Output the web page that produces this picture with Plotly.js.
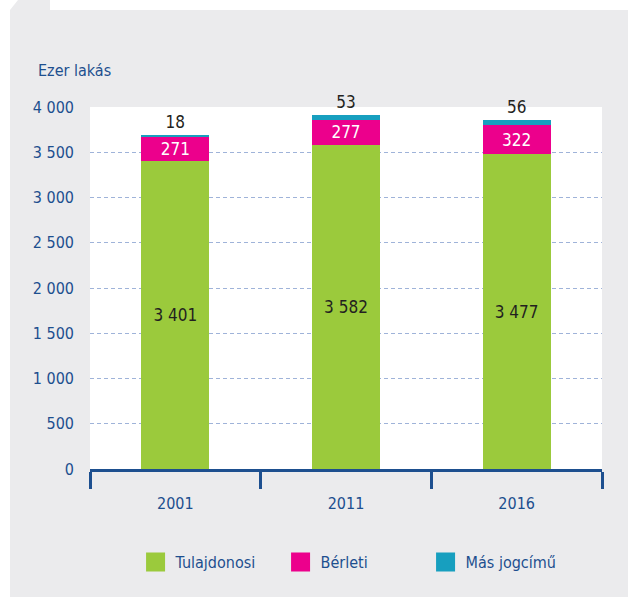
<!DOCTYPE html>
<html>
<head>
<meta charset="utf-8">
<script src="https://cdn.plot.ly/plotly-3.0.1.min.js"></script>
<style>
  html, body { margin: 0; padding: 0; background: #ffffff; }
  #bg { position: absolute; left: 0; top: 0; width: 628px; height: 599px; background: #ebebed;
        clip-path: polygon(18px 0px, 50px 0px, 50px 10px, 628px 10px, 628px 597px, 10px 597px, 10px 10px); }
  #chart { position: absolute; left: 0; top: 0; width: 628px; height: 599px; }
</style>
</head>
<body>
<div id="bg"></div>
<div id="chart"></div>
<script>
const years = ['2001', '2011', '2016'];
const tulajdonosi = [3401, 3582, 3477];
const berleti = [271, 277, 322];
const masJogcimu = [18, 53, 56];
const seriesNames = ['Tulajdonosi', 'Bérleti', 'Más jogcímű'];
const yTicks = [0, 500, 1000, 1500, 2000, 2500, 3000, 3500, 4000];

const FONT = '"DejaVu Sans Condensed", "DejaVu Sans", sans-serif';
const BLUE = '#1d4f8f';
const DARK = '#231f20';

const common = { type: 'bar', x: years, width: 0.4, texttemplate: '%{y:,}', constraintext: 'none',
                 cliponaxis: false, hoverinfo: 'skip' };

const traces = [
  Object.assign({}, common, { name: seriesNames[0], y: tulajdonosi, marker: { color: '#9bca3c', line: { width: 0 } },
    textposition: 'inside', insidetextanchor: 'middle', textfont: { family: FONT, size: 17, color: DARK } }),
  Object.assign({}, common, { name: seriesNames[1], y: berleti, marker: { color: '#ec008c', line: { width: 0 } },
    textposition: 'inside', insidetextanchor: 'middle', textfont: { family: FONT, size: 17, color: '#ffffff' } }),
  Object.assign({}, common, { name: seriesNames[2], y: masJogcimu, marker: { color: '#179fbf', line: { width: 0 } },
    textposition: 'outside', textfont: { family: FONT, size: 17, color: DARK } })
];

const layout = {
  width: 628, height: 599,
  margin: { l: 90, r: 26, t: 107, b: 130 },
  paper_bgcolor: 'rgba(0,0,0,0)',
  plot_bgcolor: '#ffffff',
  separators: ', ',
  barmode: 'stack',
  font: { family: FONT, color: BLUE, size: 16 },
  showlegend: true,
  legend: { orientation: 'h', x: 0.089, xanchor: 'left', y: -0.257, yanchor: 'middle',
            font: { family: FONT, size: 16, color: BLUE }, bgcolor: 'rgba(0,0,0,0)',
            traceorder: 'normal', entrywidth: 100, entrywidthmode: 'pixels' },
  xaxis: { type: 'category', showgrid: false, showline: true, linecolor: BLUE, linewidth: 3,
           ticks: 'outside', tickson: 'boundaries', ticklen: 17, tickwidth: 3, tickcolor: BLUE,
           ticklabelstandoff: 18,
           tickfont: { family: FONT, size: 16, color: BLUE }, fixedrange: true, zeroline: false },
  yaxis: { range: [0, 4000], tickvals: yTicks, tickformat: ',', showline: false, zeroline: false,
           showgrid: true, gridcolor: '#9fb3d9', gridwidth: 1, griddash: '4px,3px',
           ticks: '', ticklabelstandoff: 15,
           tickfont: { family: FONT, size: 16, color: BLUE }, fixedrange: true },
  annotations: [
    { text: 'Ezer lakás', xref: 'paper', yref: 'paper', x: -0.105, y: 1.102, xanchor: 'left', yanchor: 'middle',
      showarrow: false, font: { family: FONT, size: 16, color: BLUE } }
  ]
};

Plotly.newPlot('chart', traces, layout, { displayModeBar: false, staticPlot: true }).then(function (gd) {
  // enlarge the legend swatches to square blocks like the original
  gd.querySelectorAll('.legendpoints path').forEach(function (p) {
    p.setAttribute('d', 'M9.5,9.5H-9.5V-9.5H9.5Z');
    p.style.strokeWidth = '0px';
  });
});
</script>
</body>
</html>
